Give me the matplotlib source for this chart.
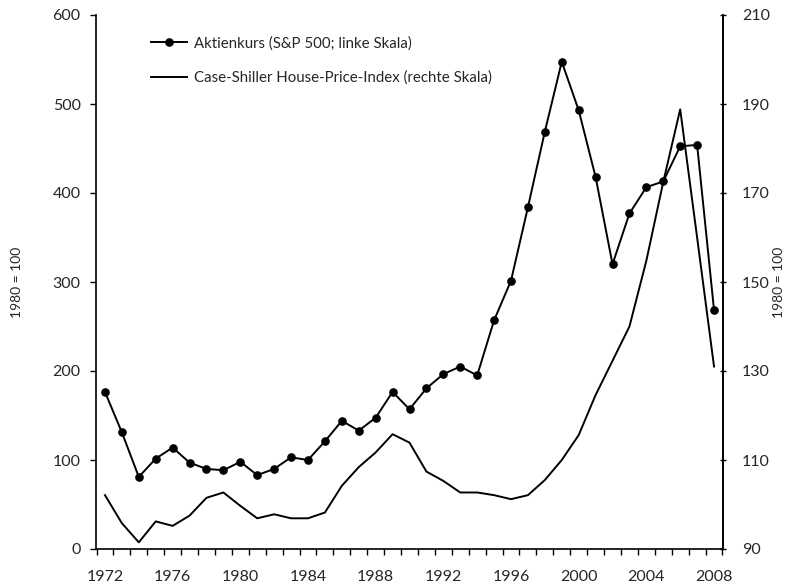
import numpy as np
import matplotlib
matplotlib.use("Agg")
import matplotlib.pyplot as plt
from matplotlib.ticker import FixedLocator

plt.rcParams['font.family'] = ['Lato', 'DejaVu Sans']

years = list(range(1972, 2009))
# S&P 500, 1980 = 100 (left scale)
stock = [176.5, 131, 81, 101.5, 114, 97, 90, 88.5, 98, 83, 90, 103, 100, 121,
         144, 133, 147.5, 176.5, 157, 180.5, 196.5, 205, 195, 257, 301.5, 384,
         469, 547.5, 493, 418, 320, 377, 406.5, 413, 452.5, 454, 268.5]
# Case-Shiller house price index, 1980 = 100 (right scale)
house = [102.1, 95.8, 91.5, 96.2, 95.2, 97.5, 101.5, 102.7, 99.7, 96.9, 97.8,
         96.9, 96.9, 98.2, 104.2, 108.4, 111.7, 115.8, 113.9, 107.4, 105.3,
         102.7, 102.7, 102.1, 101.2, 102.1, 105.5, 110.0, 115.6, 124.6, 132.3,
         140.0, 154.8, 172.5, 188.8, 160.0, 131.0]

label_years = [1972, 1976, 1980, 1984, 1988, 1992, 1996, 2000, 2004, 2008]
left_ticks = [0, 100, 200, 300, 400, 500, 600]
right_ticks = [90, 110, 130, 150, 170, 190, 210]

txt = '#262626'

fig = plt.figure(figsize=(7.87, 5.87), dpi=100)
ax = fig.add_axes([96/787, 1-549/587, 627/787, 534/587])
ax2 = ax.twinx()

l1, = ax.plot(years, stock, color='black', lw=1.4, marker='o', markersize=5.2,
              label='Aktienkurs (S&P 500; linke Skala)', zorder=3)
l2, = ax2.plot(years, house, color='black', lw=1.4,
               label='Case-Shiller House-Price-Index (rechte Skala)')

ax.set_xlim(1971.47, 2008.53)
ax.set_ylim(0, 600)
ax2.set_ylim(90, 210)

ax.set_yticks(left_ticks)
ax2.set_yticks(right_ticks)
ax.set_xticks(label_years)
ax.xaxis.set_minor_locator(FixedLocator(np.arange(1971.5, 2009, 1.0)))

ax.tick_params(axis='x', which='major', length=0, pad=15, labelsize=11.5, labelcolor=txt)
ax.tick_params(axis='x', which='minor', length=4, width=1, direction='out')
ax.tick_params(axis='y', length=4, width=1, direction='out', pad=7, labelsize=11.5, labelcolor=txt)
ax2.tick_params(axis='y', length=5, width=1, direction='inout', pad=11, labelsize=11.5, labelcolor=txt)

for a in (ax, ax2):
    a.spines['top'].set_visible(False)
    for s in a.spines.values():
        s.set_linewidth(1.2)
ax2.spines['left'].set_visible(False)
ax2.spines['bottom'].set_visible(False)

ax.set_ylabel('1980 = 100', fontsize=10, color=txt)
ax.yaxis.set_label_coords(-0.116, 0.5)
ax2.set_ylabel('1980 = 100', fontsize=10, color=txt, rotation=90)
ax2.yaxis.set_label_coords(1.08, 0.5)

fig.legend(handles=[l1, l2], loc='upper left', bbox_to_anchor=(151/787, 1-36/587),
           frameon=False, fontsize=10.8, handlelength=2.4, handletextpad=0.5,
           labelspacing=1.35, borderpad=0, borderaxespad=0, labelcolor=txt)

fig.savefig('out.png', dpi=100)
